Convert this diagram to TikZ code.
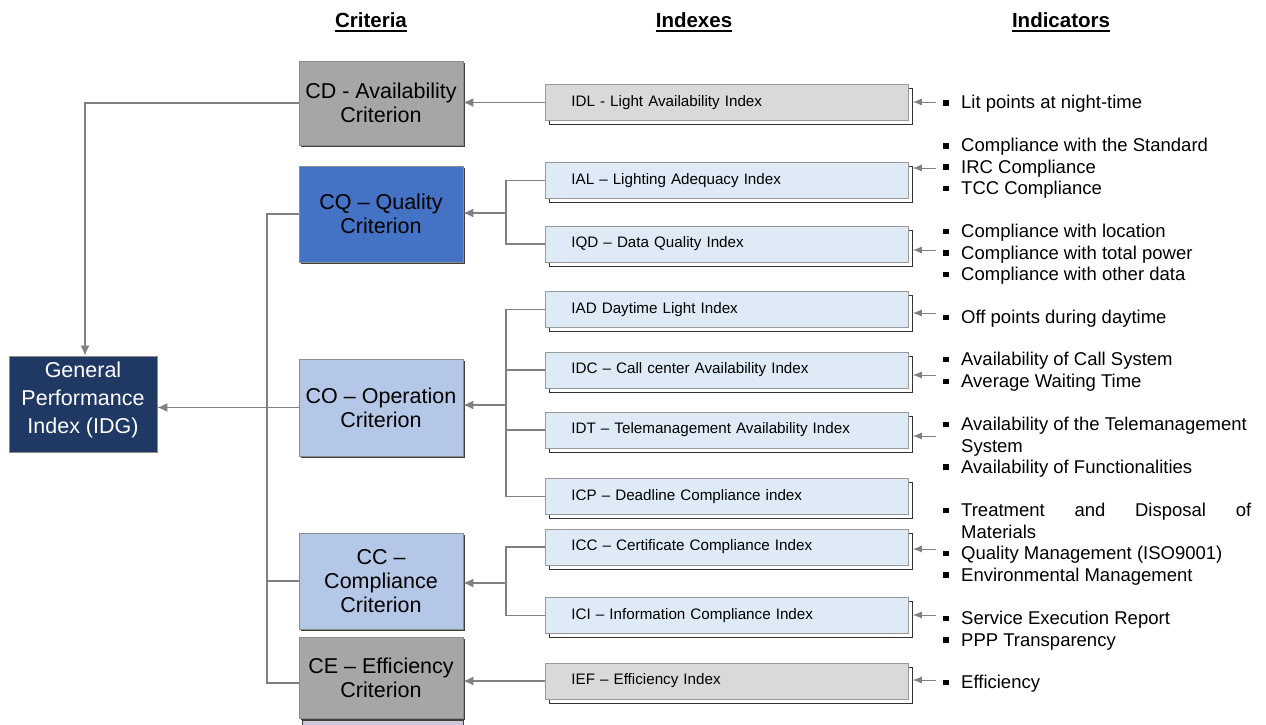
\documentclass[tikz,border=0pt]{standalone}
\usepackage{fontspec}
\setmainfont{Liberation Sans}
\usetikzlibrary{shadows,arrows.meta}
\definecolor{cdgray}{HTML}{A6A6A6}
\definecolor{cqblue}{HTML}{4472C4}
\definecolor{colight}{HTML}{B4C7E7}
\definecolor{idgblue}{HTML}{1F3864}
\definecolor{idxblue}{HTML}{DEEBF7}
\definecolor{idxgray}{HTML}{D9D9D9}
\definecolor{stripcol}{HTML}{CEC8DA}
\newcommand\bul{\makebox[18pt][l]{\rule[3.2pt]{5.5pt}{5.5pt}}}
\newcommand\nobul{\hspace*{18pt}}
\tikzset{
  crit/.style={draw=black!45, line width=0.8pt, minimum width=164pt, align=center,
    inner sep=0pt, font=\fontsize{21.5}{24}\selectfont,
    drop shadow={shadow xshift=1.6pt, shadow yshift=-1.6pt, opacity=1, fill=black!75}},
  idx/.style={anchor=west, draw=black!40, line width=0.8pt, minimum width=363pt, minimum height=36pt,
    text width=311pt, inner xsep=26pt, inner ysep=0pt, align=left,
    font=\fontsize{15.2}{18}\selectfont,
    copy shadow={shadow xshift=4pt, shadow yshift=-4pt, fill=white, draw=black!80, line width=0.9pt}},
  conn/.style={draw=black!50, line width=1.2pt},
  arr/.style={conn, -{Latex[length=10pt,width=9pt]}},
  arrs/.style={draw=black!50, line width=1pt, -{Latex[length=9pt,width=7pt]}},
  ind/.style={anchor=base west, inner sep=0pt, font=\fontsize{18.5}{21.5}\selectfont},
  head/.style={anchor=base, inner sep=0pt, font=\fontsize{20.5}{24}\selectfont\bfseries}
}
\begin{document}
\begin{tikzpicture}[x=1pt,y=-1pt]
\useasboundingbox (0,0) rectangle (1266,724);

% headers
\node[head] (h1) at (371,27) {Criteria};
\node[head] (h2) at (694,27) {Indexes};
\node[head] (h3) at (1061,27) {Indicators};
\foreach \h in {h1,h2,h3}
  \draw[line width=2pt] ([yshift=-3.6pt]\h.base west) -- ([yshift=-3.6pt]\h.base east);

% strip below CE
\fill[stripcol] (302,720) rectangle (463,726);
\draw[black!75, line width=0.8pt] (302,726) -- (302,720.5) -- (463,720.5) -- (463,726);

% main index
\node[draw=black!45, line width=0.8pt, fill=idgblue, text=white, minimum width=148pt,
  minimum height=96pt, inner sep=0pt, align=center, font=\fontsize{21.5}{28}\selectfont]
  (idg) at (83,404) {General\\Performance\\Index (IDG)\\[-16pt]\mbox{}};

% criteria
\node[crit, fill=cdgray, minimum height=84pt] (cd) at (381,103) {CD - Availability\\Criterion};
\node[crit, fill=cqblue, minimum height=96pt] (cq) at (381,214) {CQ -- Quality\\Criterion};
\node[crit, fill=colight, minimum height=97pt] (co) at (381,407.5) {CO -- Operation\\Criterion};
\node[crit, fill=colight, minimum height=96pt] (cc) at (381,581) {CC --\\Compliance\\Criterion};
\node[crit, fill=cdgray, minimum height=81pt] (ce) at (381,677.5) {CE -- Efficiency\\Criterion};

% indexes
\node[idx, fill=idxgray] (idl) at (545,102.5) {IDL - Light Availability Index};
\node[idx, fill=idxblue] (ial) at (545,180.5) {IAL -- Lighting Adequacy Index};
\node[idx, fill=idxblue] (iqd) at (545,244) {IQD -- Data Quality Index};
\node[idx, fill=idxblue] (iad) at (545,309.5) {IAD Daytime Light Index};
\node[idx, fill=idxblue] (idc) at (545,370) {IDC -- Call center Availability Index};
\node[idx, fill=idxblue] (idt) at (545,430) {IDT -- Telemanagement Availability Index};
\node[idx, fill=idxblue] (icp) at (545,496.5) {ICP -- Deadline Compliance index};
\node[idx, fill=idxblue] (icc) at (545,547) {ICC -- Certificate Compliance Index};
\node[idx, fill=idxblue] (ici) at (545,615.5) {ICI -- Information Compliance Index};
\node[idx, fill=idxgray] (ief) at (545,681) {IEF -- Efficiency Index};

% indicators
\node[ind] (t1) at (943,108.7) {\bul Lit points at night-time};
\node[ind] (t2) at (943,151.7) {\bul Compliance with the Standard};
\node[ind] (t3) at (943,173) {\bul IRC Compliance};
\node[ind] (t4) at (943,194.3) {\bul TCC Compliance};
\node[ind] (t5) at (943,237.5) {\bul Compliance with location};
\node[ind] (t6) at (943,259) {\bul Compliance with total power};
\node[ind] (t7) at (943,280.5) {\bul Compliance with other data};
\node[ind] (t8) at (943,323.5) {\bul Off points during daytime};
\node[ind] (t9) at (943,365.5) {\bul Availability of Call System};
\node[ind] (t10) at (943,387.5) {\bul Average Waiting Time};
\node[ind] (t11) at (943,430.5) {\bul Availability of the Telemanagement};
\node[ind] (t12) at (943,452) {\nobul System};
\node[ind] (t13) at (943,473) {\bul Availability of Functionalities};
\node[ind] (t14) at (943,516.5) {\bul\makebox[290pt][s]{Treatment\hfill and\hfill Disposal\hfill of}};
\node[ind] (t15) at (943,538) {\nobul Materials};
\node[ind] (t16) at (943,559.5) {\bul Quality Management (ISO9001)};
\node[ind] (t17) at (943,581) {\bul Environmental Management};
\node[ind] (t18) at (943,624.5) {\bul Service Execution Report};
\node[ind] (t19) at (943,646) {\bul PPP Transparency};
\node[ind] (t20) at (943,688.5) {\bul Efficiency};

% arrows indicators -> indexes
\coordinate (r1) at (936,102);
\coordinate (r2) at (936,168);
\coordinate (r3) at (936,250);
\coordinate (r4) at (936,313);
\coordinate (r5) at (936,375);
\coordinate (r6) at (936,436);
\coordinate (r7) at (936,549);
\coordinate (r8) at (936,615);
\coordinate (r9) at (936,680);
\draw[arrs] (r1) -- ([xshift=4pt]r1 -| idl.east);
\draw[arrs] (r2) -- ([xshift=4pt]r2 -| ial.east);
\draw[arrs] (r3) -- ([xshift=4pt]r3 -| iqd.east);
\draw[arrs] (r4) -- ([xshift=4pt]r4 -| iad.east);
\draw[arrs] (r5) -- ([xshift=4pt]r5 -| idc.east);
\draw[arrs] (r6) -- ([xshift=4pt]r6 -| idt.east);
\draw[arrs] (r7) -- ([xshift=4pt]r7 -| icc.east);
\draw[arrs] (r8) -- ([xshift=4pt]r8 -| ici.east);
\draw[arrs] (r9) -- ([xshift=4pt]r9 -| ief.east);

% indexes -> criteria
\draw[arr] (idl.west) -- (idl.west -| cd.east);
\coordinate (jq) at (506,213);
\draw[conn] (ial.west) -| (jq) |- (iqd.west);
\draw[arr] (jq) -- (jq -| cq.east);
\coordinate (jo) at (506,405);
\draw[conn] (iad.west) -| (jo) |- (icp.west);
\draw[conn] (idc.west) -- (idc.west -| jo);
\draw[conn] (idt.west) -- (idt.west -| jo);
\draw[arr] (jo) -- (jo -| co.east);
\coordinate (jc) at (506,583);
\draw[conn] (icc.west) -| (jc) |- (ici.west);
\draw[arr] (jc) -- (jc -| cc.east);
\draw[arr] (ief.west) -- (ief.west -| ce.east);

% criteria -> general index
\coordinate (bq) at (267,214);
\coordinate (be) at (267,683);
\draw[conn] (cq.west) -- (bq) -- (be) -- (be -| ce.west);
\draw[conn] (cc.west) -- (cc.west -| bq);
\draw[arr] (co.west) -- (co.west -| idg.east);
\draw[arr] (cd.west) -| ([xshift=2pt]idg.north);
\end{tikzpicture}
\end{document}
